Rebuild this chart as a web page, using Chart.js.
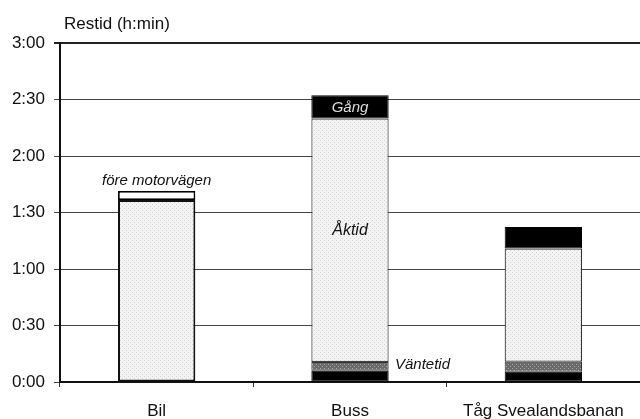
<!DOCTYPE html>
<html>
<head>
<meta charset="utf-8">
<script src="https://cdn.jsdelivr.net/npm/chart.js@4.4.1/dist/chart.umd.min.js"></script>
<style>
  body { margin: 0; background: #fff; }
  canvas { display: block; }
</style>
</head>
<body>
<canvas id="restid" width="640" height="419"></canvas>
<script>
// Data (minutes)
const categories = ['Bil', 'Buss', 'Tåg Svealandsbanan'];
const gangStart = [null, 6, 5.5];
const vantetid = [null, 4.6, 5.3];
const aktid = [96.6, 129.3, 60.1];
const foreMotorvagen = [4.8, null, null];
const gangSlut = [null, 12.3, 11.4];
const yTickLabels = ['0:00', '0:30', '1:00', '1:30', '2:00', '2:30', '3:00'];

// Stippled fills like the scanned print
function makePattern(bg, dot, step) {
    const c = document.createElement('canvas');
    c.width = step; c.height = step;
    const g = c.getContext('2d');
    g.fillStyle = bg;
    g.fillRect(0, 0, step, step);
    g.fillStyle = dot;
    g.fillRect(0, 0, 1, 1);
    g.fillRect(2, 2, 1, 1);
    return g.createPattern(c, 'repeat');
}
const lightFill = makePattern('#f3f3f3', '#d4d4d4', 4);
const darkFill = makePattern('#6a6a6a', '#a8a8a8', 4);

const FONT = '"Liberation Sans", Arial, sans-serif';

// Titles and segment labels
const labelPlugin = {
    id: 'labels',
    afterDatasetsDraw(chart) {
        const ctx = chart.ctx;
        const x = chart.scales.x, y = chart.scales.y;
        ctx.save();
        ctx.fillStyle = '#111';
        ctx.font = '17px ' + FONT;
        ctx.textAlign = 'left';
        ctx.textBaseline = 'alphabetic';
        ctx.fillText('Restid (h:min)', 64, 29);

        ctx.textBaseline = 'middle';
        ctx.font = 'italic 15px ' + FONT;
        ctx.textAlign = 'center';
        ctx.fillText('före motorvägen', x.getPixelForValue(0), y.getPixelForValue(aktid[0] + foreMotorvagen[0]) - 10);
        ctx.textAlign = 'left';
        ctx.fillText('Väntetid', x.getPixelForValue(1) + 45, y.getPixelForValue(gangStart[1] + vantetid[1] / 2) - 2);
        ctx.font = 'italic 16px ' + FONT;
        ctx.textAlign = 'center';
        ctx.fillText('Åktid', x.getPixelForValue(1), y.getPixelForValue(80.5));
        ctx.font = 'italic 15px ' + FONT;
        ctx.fillStyle = '#ddd';
        const topStart = gangStart[1] + vantetid[1] + aktid[1];
        ctx.fillText('Gång', x.getPixelForValue(1), y.getPixelForValue(topStart + gangSlut[1] / 2) + 1);
        ctx.restore();
    }
};

const restid = new Chart(document.getElementById('restid'), {
    type: 'bar',
    data: {
        labels: categories,
        datasets: [
            { label: 'Gång', data: gangStart, backgroundColor: '#000', borderColor: '#000', borderWidth: 1 },
            { label: 'Väntetid', data: vantetid, backgroundColor: darkFill, borderColor: '#333', borderWidth: 1 },
            { label: 'Åktid', data: aktid, backgroundColor: lightFill, borderColor: ['#111', '#444', '#333'], borderWidth: [2, 1.2, 1.2] },
            { label: 'före motorvägen', data: foreMotorvagen, backgroundColor: '#fff', borderColor: '#000', borderWidth: 1.8 },
            { label: 'Gång', data: gangSlut, backgroundColor: '#000', borderColor: '#000', borderWidth: 1 }
        ]
    },
    options: {
        responsive: false,
        animation: false,
        layout: { padding: { top: 43, right: 0, bottom: 0, left: 0 } },
        datasets: { bar: { barPercentage: 0.4, categoryPercentage: 1, borderSkipped: false } },
        plugins: {
            legend: { display: false },
            tooltip: { enabled: false }
        },
        scales: {
            x: {
                stacked: true,
                afterFit(scale) { scale.height = 37; },
                grid: { offset: true, drawOnChartArea: false, color: '#333', tickLength: 5 },
                border: { color: '#111', width: 2 },
                ticks: { color: '#111', font: { size: 17, family: FONT }, padding: 14 }
            },
            y: {
                stacked: true,
                min: 0,
                max: 180,
                afterFit(scale) { scale.width = 60; },
                grid: {
                    color: (c) => c.index === 6 ? '#222' : '#444',
                    lineWidth: (c) => c.index === 6 ? 2 : 1,
                    tickLength: 6
                },
                border: { color: '#111', width: 2 },
                ticks: {
                    stepSize: 30,
                    color: '#111',
                    padding: 9,
                    font: { size: 17, family: FONT },
                    callback: (v, i) => yTickLabels[i]
                }
            }
        }
    },
    plugins: [labelPlugin]
});
</script>
</body>
</html>
